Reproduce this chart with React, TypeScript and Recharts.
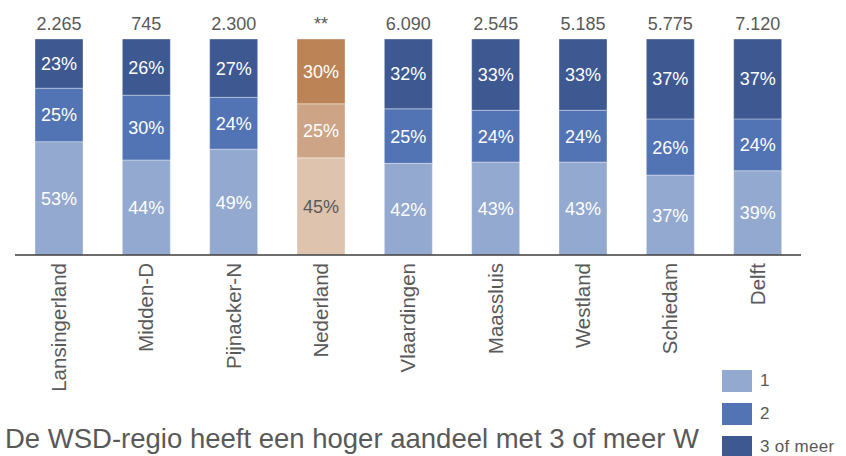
import React from "react";
import { BarChart, Bar, XAxis, YAxis, Cell, LabelList, Legend } from "recharts";

const categories = ["Lansingerland", "Midden-D", "Pijnacker-N", "Nederland", "Vlaardingen", "Maassluis", "Westland", "Schiedam", "Delft"];
const totals = ["2.265", "745", "2.300", "**", "6.090", "2.545", "5.185", "5.775", "7.120"];
const share1 = [53, 44, 49, 45, 42, 43, 43, 37, 39];
const share2 = [25, 30, 24, 25, 25, 24, 24, 26, 24];
const share3 = [23, 26, 27, 30, 32, 33, 33, 37, 37];
const seriesNames = ["1", "2", "3 of meer"];
const caption = "De WSD-regio heeft een hoger aandeel met 3 of meer W";
const highlight = "Nederland";

const blue = ["#94A9CF", "#5274B5", "#3E5892"];
const brown = ["#DEC3AF", "#CDA586", "#BC8356"];
const FONT = "'Liberation Sans', Arial, sans-serif";
const TEXT = "#595959";

const data = categories.map((c, i) => ({
  name: c,
  total: totals[i],
  s1: share1[i],
  s2: share2[i],
  s3: share3[i],
}));

const keys = ["s1", "s2", "s3"];

const PctLabel = (props: any) => {
  const { x, y, width, height, value, index } = props;
  const dark = categories[index] === highlight && props.series === 0;
  return (
    <text
      x={x + width / 2}
      y={y + height / 2 + 6.5}
      textAnchor="middle"
      fontSize={18}
      fontFamily={FONT}
      fill={dark ? TEXT : "#ffffff"}
    >
      {value}%
    </text>
  );
};

const TotalLabel = (props: any) => {
  const { x, y, width, value } = props;
  return (
    <text x={x + width / 2} y={y - 9} textAnchor="middle" fontSize={18} fontFamily={FONT} fill={TEXT}>
      {value}
    </text>
  );
};

const CatTick = (props: any) => {
  const { x, y, payload } = props;
  return (
    <text
      x={x}
      y={y}
      dy="0.36em"
      transform={`rotate(-90, ${x}, ${y})`}
      textAnchor="end"
      fontSize={20.5}
      fontFamily={FONT}
      fill={TEXT}
    >
      {payload.value}
    </text>
  );
};

const LegendContent = () => (
  <div style={{ fontFamily: FONT }}>
    {seriesNames.map((n, i) => (
      <div key={n} style={{ display: "flex", alignItems: "center", height: 33 }}>
        <div style={{ width: 30, height: 22, background: blue[i] }} />
        <span style={{ marginLeft: 8, fontSize: 17, color: TEXT, lineHeight: "22px", letterSpacing: 0.3 }}>{n}</span>
      </div>
    ))}
  </div>
);

export default function App() {
  return (
    <div style={{ position: "absolute", left: 0, top: 0, width: 846, height: 456, background: "#fff", overflow: "hidden" }}>
      <BarChart
        width={846}
        height={456}
        data={data}
        stackOffset="expand"
        margin={{ top: 39, right: 45, left: 15, bottom: 0 }}
        barSize={48}
      >
        <XAxis
          dataKey="name"
          height={201}
          interval={0}
          tickLine={false}
          axisLine={{ stroke: "#3c3c3c", strokeWidth: 1.6 }}
          tick={<CatTick />}
        />
        <YAxis hide domain={[0, 1]} />
        {keys.map((k, si) => (
          <Bar
            key={k}
            dataKey={k}
            name={seriesNames[si]}
            stackId="a"
            fill={blue[si]}
            stroke="#ffffff"
            strokeOpacity={0.35}
            strokeWidth={1}
            isAnimationActive={false}
          >
            {categories.map((c, i) => (
              <Cell key={c} fill={c === highlight ? brown[si] : blue[si]} />
            ))}
            <LabelList dataKey={k} content={(p: any) => <PctLabel {...p} series={si} />} />
            {si === 2 ? <LabelList dataKey="total" content={<TotalLabel />} /> : null}
          </Bar>
        ))}
        <Legend
          layout="vertical"
          align="center"
          verticalAlign="middle"
          content={<LegendContent />}
          wrapperStyle={{ left: 722, top: 364, width: 124, height: 92 }}
        />
      </BarChart>
      <div
        style={{
          position: "absolute",
          left: 5,
          top: 425,
          fontFamily: FONT,
          fontSize: 27.5,
          lineHeight: 1,
          color: TEXT,
          whiteSpace: "nowrap",
        }}
      >
        {caption}
      </div>
    </div>
  );
}
